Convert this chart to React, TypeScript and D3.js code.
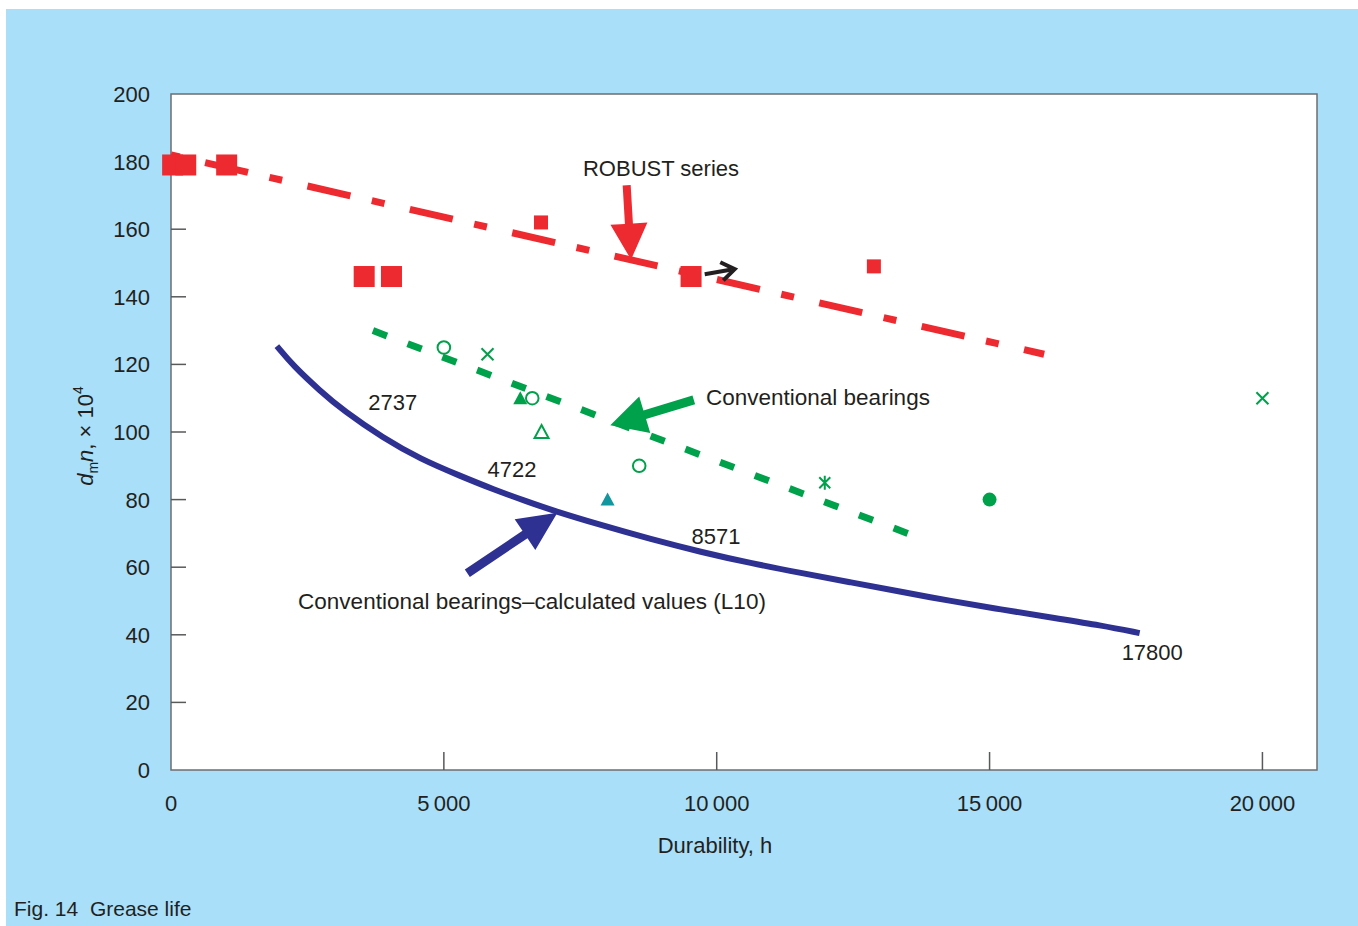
import React from "react";
import * as d3 from "d3";

// ---------- data ----------
const xTicks = [0, 5000, 10000, 15000, 20000];
const xTickLabels = ["0", "5\u2009000", "10\u2009000", "15\u2009000", "20\u2009000"];
const yTicks = [0, 20, 40, 60, 80, 100, 120, 140, 160, 180, 200];

// ROBUST series measured points
const robustBig = [
  { x: 30, y: 179 },
  { x: 270, y: 179 },
  { x: 1020, y: 179 },
  { x: 3540, y: 146 },
  { x: 4040, y: 146 },
  { x: 9530, y: 146 },
];
const robustSmall = [
  { x: 6780, y: 162 },
  { x: 12880, y: 149 },
];
const robustTrend = [
  { x: 0, y: 182 },
  { x: 16000, y: 123 },
];

// Conventional bearings measured points
const conventionalPoints = [
  { x: 5000, y: 125, shape: "circle" },
  { x: 5800, y: 123, shape: "x" },
  { x: 6400, y: 110, shape: "triFill" },
  { x: 6620, y: 110, shape: "circle" },
  { x: 6790, y: 100, shape: "tri" },
  { x: 8580, y: 90, shape: "circle" },
  { x: 8000, y: 80, shape: "triTeal" },
  { x: 11980, y: 85, shape: "asterisk" },
  { x: 15000, y: 80, shape: "dot" },
  { x: 20000, y: 110, shape: "x" },
];
const conventionalTrend = [
  { x: 3700, y: 130 },
  { x: 13500, y: 70 },
];

// Conventional bearings – calculated L10 curve
const l10Curve = [
  { x: 1940, y: 125.4 },
  { x: 2240, y: 119.6 },
  { x: 2730, y: 112.2 },
  { x: 3160, y: 106.3 },
  { x: 3890, y: 98.2 },
  { x: 4570, y: 92.0 },
  { x: 5300, y: 87.0 },
  { x: 5910, y: 83.0 },
  { x: 6530, y: 79.4 },
  { x: 7010, y: 76.7 },
  { x: 7870, y: 72.5 },
  { x: 8790, y: 68.3 },
  { x: 9710, y: 64.5 },
  { x: 10620, y: 61.2 },
  { x: 11540, y: 58.3 },
  { x: 12460, y: 55.5 },
  { x: 13380, y: 52.7 },
  { x: 14290, y: 50.0 },
  { x: 15210, y: 47.5 },
  { x: 16130, y: 45.1 },
  { x: 17050, y: 42.8 },
  { x: 17750, y: 40.5 },
];
const l10Labels = [
  { x: 3615, y: 106.5, text: "2737" },
  { x: 5800, y: 86.7, text: "4722" },
  { x: 9540, y: 67.0, text: "8571" },
  { x: 17420, y: 32.5, text: "17800" },
];

// annotations (data coordinates)
const robustArrow = { x1: 8350, y1: 173, x2: 8430, y2: 151 };
const greenArrow = { x1: 9580, y1: 109.5, x2: 8050, y2: 102 };
const blueArrow = { x1: 5430, y1: 58.2, x2: 7080, y2: 76.1 };
const blackArrow = { x1: 9780, y1: 146.7, x2: 10330, y2: 148.2 };

// ---------- style ----------
const W = 1358;
const H = 926;
const BG = "#a9dff9";
const RED = "#ed2a2f";
const GREEN = "#00a14b";
const TEAL = "#12979f";
const NAVY = "#2e3192";
const INK = "#231f20";
const FONT = "'Liberation Sans', Arial, Helvetica, sans-serif";

function arrowPoints(
  x1: number, y1: number, x2: number, y2: number,
  shaftW: number, headL: number, headW: number
) {
  const dx = x2 - x1, dy = y2 - y1;
  const L = Math.hypot(dx, dy);
  const ux = dx / L, uy = dy / L;
  const px = -uy, py = ux;
  const bx = x2 - ux * headL, by = y2 - uy * headL;
  const pts = [
    [x1 + (px * shaftW) / 2, y1 + (py * shaftW) / 2],
    [bx + (px * shaftW) / 2, by + (py * shaftW) / 2],
    [bx + (px * headW) / 2, by + (py * headW) / 2],
    [x2, y2],
    [bx - (px * headW) / 2, by - (py * headW) / 2],
    [bx - (px * shaftW) / 2, by - (py * shaftW) / 2],
    [x1 - (px * shaftW) / 2, y1 - (py * shaftW) / 2],
  ];
  return pts.map((p) => p.join(",")).join(" ");
}

export default function App() {
  const x = d3.scaleLinear().domain([0, 21000]).range([171, 1317]);
  const y = d3.scaleLinear().domain([0, 200]).range([770, 94]);

  const straight = d3
    .line<{ x: number; y: number }>()
    .x((d) => x(d.x))
    .y((d) => y(d.y));
  const smooth = d3
    .line<{ x: number; y: number }>()
    .x((d) => x(d.x))
    .y((d) => y(d.y))
    .curve(d3.curveBasis);

  const marker = (p: { x: number; y: number; shape: string }, i: number) => {
    const cx = x(p.x), cy = y(p.y);
    switch (p.shape) {
      case "circle":
        return <circle key={i} cx={cx} cy={cy} r={6.3} fill="none" stroke={GREEN} strokeWidth={2} />;
      case "dot":
        return <circle key={i} cx={cx} cy={cy} r={7} fill={GREEN} />;
      case "x": {
        const s = 6;
        return (
          <path key={i} d={`M${cx - s},${cy - s}L${cx + s},${cy + s}M${cx - s},${cy + s}L${cx + s},${cy - s}`}
            stroke={GREEN} strokeWidth={2} fill="none" />
        );
      }
      case "asterisk": {
        const s = 5.5;
        return (
          <path key={i}
            d={`M${cx - s},${cy - s}L${cx + s},${cy + s}M${cx - s},${cy + s}L${cx + s},${cy - s}M${cx},${cy - 7}L${cx},${cy + 7}`}
            stroke={GREEN} strokeWidth={2} fill="none" />
        );
      }
      case "tri":
      case "triFill":
      case "triTeal": {
        const h = 12, w = 14;
        const d = `M${cx},${cy - h / 2 - 1}L${cx + w / 2},${cy + h / 2}L${cx - w / 2},${cy + h / 2}Z`;
        if (p.shape === "tri")
          return <path key={i} d={d} fill="none" stroke={GREEN} strokeWidth={2} />;
        return <path key={i} d={d} fill={p.shape === "triTeal" ? TEAL : GREEN} stroke="none" />;
      }
    }
    return null;
  };

  const bx1 = x(blackArrow.x1), by1 = y(blackArrow.y1), bx2 = x(blackArrow.x2), by2 = y(blackArrow.y2);
  const ang = Math.atan2(by2 - by1, bx2 - bx1);
  const armL = 16, armA = (35 * Math.PI) / 180;
  const chev = `M${bx2 - armL * Math.cos(ang - armA)},${by2 - armL * Math.sin(ang - armA)}L${bx2},${by2}L${bx2 - armL * Math.cos(ang + armA)},${by2 - armL * Math.sin(ang + armA)}`;

  // dash period fitted to green line length so it ends on a full dash
  const gx1 = x(conventionalTrend[0].x), gy1 = y(conventionalTrend[0].y);
  const gx2 = x(conventionalTrend[1].x), gy2 = y(conventionalTrend[1].y);
  const gLen = Math.hypot(gx2 - gx1, gy2 - gy1);
  const gDash = 15;
  const gPeriod = (gLen - gDash) / Math.round((gLen - gDash) / 37.5);

  const bigS = 21, smallS = 14;

  return (
    <svg width={W} height={H} style={{ position: "absolute", left: 0, top: 0 }} fontFamily={FONT}>
      <rect x={0} y={0} width={W} height={H} fill="#ffffff" />
      <rect x={6} y={9} width={W - 6} height={H - 9} fill={BG} />
      <rect x={171} y={94} width={1317 - 171} height={770 - 94} fill="#ffffff" stroke="#6d6e71" strokeWidth={1.5} />

      {/* y ticks */}
      {yTicks.map((t) => (
        <g key={"y" + t}>
          {t > 0 && t < 200 && (
            <line x1={171} x2={186} y1={y(t)} y2={y(t)} stroke="#58595b" strokeWidth={1.5} />
          )}
          <text x={150} y={y(t)} dy="0.36em" textAnchor="end" fontSize={22} fill={INK}>
            {t}
          </text>
        </g>
      ))}
      {/* x ticks */}
      {xTicks.map((t, i) => (
        <g key={"x" + t}>
          {t > 0 && <line x1={x(t)} x2={x(t)} y1={770} y2={752} stroke="#58595b" strokeWidth={1.5} />}
          <text x={x(t)} y={811} textAnchor="middle" fontSize={22} fill={INK}>
            {xTickLabels[i]}
          </text>
        </g>
      ))}

      <text x={715} y={853} textAnchor="middle" fontSize={22} fill={INK}>
        Durability, h
      </text>
      <text transform="translate(93,436) rotate(-90)" textAnchor="middle" fontSize={22} fill={INK}>
        <tspan fontStyle="italic">d</tspan>
        <tspan fontSize={14} dy={5}>m</tspan>
        <tspan fontStyle="italic" dy={-5}>n</tspan>
        <tspan>, × 10</tspan>
        <tspan fontSize={14} dy={-10}>4</tspan>
      </text>

      <text x={14} y={916} fontSize={21} fill={INK}>
        Fig. 14{"\u00a0\u00a0"}Grease life
      </text>

      {/* L10 curve */}
      <path d={smooth(l10Curve) || ""} fill="none" stroke={NAVY} strokeWidth={6} strokeLinejoin="round" />
      {l10Labels.map((l) => (
        <text key={l.text} x={x(l.x)} y={y(l.y)} fontSize={22} fill={INK}>
          {l.text}
        </text>
      ))}

      {/* conventional trend */}
      <path d={straight(conventionalTrend) || ""} fill="none" stroke={GREEN} strokeWidth={7}
        strokeDasharray={`${gDash} ${gPeriod - gDash}`} />
      {conventionalPoints.map(marker)}

      {/* robust trend */}
      <path d={straight(robustTrend) || ""} fill="none" stroke={RED} strokeWidth={7}
        strokeDasharray="44 22 13 26" strokeDashoffset={70} />
      {robustBig.map((p, i) => (
        <rect key={"rb" + i} x={x(p.x) - bigS / 2} y={y(p.y) - bigS / 2} width={bigS} height={bigS} fill={RED} />
      ))}
      {robustSmall.map((p, i) => (
        <rect key={"rs" + i} x={x(p.x) - smallS / 2} y={y(p.y) - smallS / 2} width={smallS} height={smallS} fill={RED} />
      ))}

      {/* annotations */}
      <polygon points={arrowPoints(x(robustArrow.x1), y(robustArrow.y1), x(robustArrow.x2), y(robustArrow.y2), 8, 36, 37)} fill={RED} />
      <text x={661} y={176} textAnchor="middle" fontSize={22} fill={INK}>ROBUST series</text>

      <polygon points={arrowPoints(x(greenArrow.x1), y(greenArrow.y1), x(greenArrow.x2), y(greenArrow.y2), 9, 36, 38)} fill={GREEN} />
      <text x={706} y={405} fontSize={22.5} fill={INK}>Conventional bearings</text>

      <polygon points={arrowPoints(x(blueArrow.x1), y(blueArrow.y1), x(blueArrow.x2), y(blueArrow.y2), 9, 39, 37)} fill={NAVY} />
      <text x={532} y={609} textAnchor="middle" fontSize={22.5} fill={INK}>
        Conventional bearings–calculated values (L10)
      </text>

      <line x1={bx1} y1={by1} x2={bx2 - 3 * Math.cos(ang)} y2={by2 - 3 * Math.sin(ang)} stroke={INK} strokeWidth={4} />
      <path d={chev} fill="none" stroke={INK} strokeWidth={4} strokeLinejoin="miter" />
    </svg>
  );
}
